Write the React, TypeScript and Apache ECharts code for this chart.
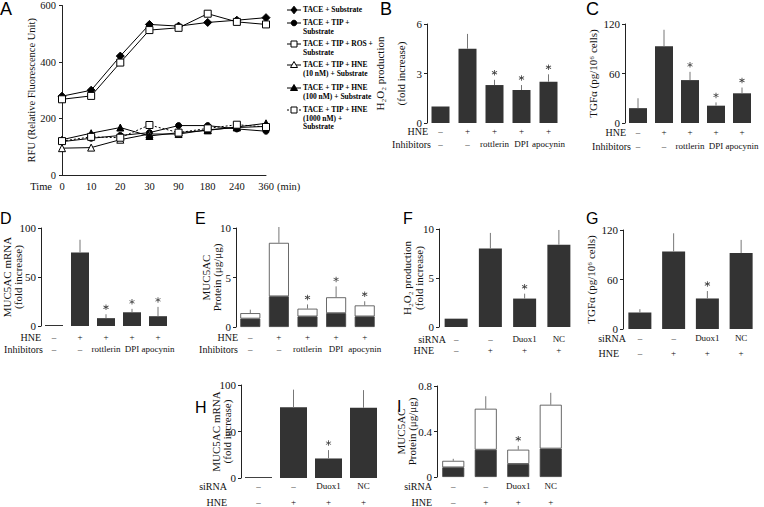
import React, { useEffect, useRef } from "react";
import * as echarts from "echarts";

const SERIF = '"Liberation Serif", "Times New Roman", serif';
const SANS = '"Liberation Sans", Arial, sans-serif';
const INK = "#111";
const BAR = "#333";
const ASTERISK =
  "path://M4.3 0L5.7 0L5.7 10L4.3 10Z M0.32 6.89L8.98 1.89L9.68 3.11L1.02 8.11Z M1.02 1.89L9.68 6.89L8.98 8.11L0.32 3.11Z";

// ---------- Panel A: TACE activity time course ----------
const timeLabels = ["0", "10", "20", "30", "90", "180", "240", "360"];
const aSeriesNames = [
  "TACE + Substrate",
  "TACE + TIP +\nSubstrate",
  "TACE + TIP + ROS +\nSubstrate",
  "TACE + TIP + HNE\n(10 nM) + Substrate",
  "TACE + TIP + HNE\n(100 nM) + Substrate",
  "TACE + TIP + HNE\n(1000 nM) +\nSubstrate",
];
const taceSubstrate = [279, 300, 421, 533, 527, 540, 548, 557];
const taceTip = [118, 130, 140, 150, 175, 175, 163, 155];
const taceTipRos = [268, 280, 398, 513, 521, 571, 542, 533];
const taceTipHne10 = [95, 97, 125, 145, 145, 160, 168, 172];
const taceTipHne100 = [125, 148, 168, 138, 150, 158, 170, 183];
const taceTipHne1000 = [120, 135, 132, 177, 150, 165, 178, 170];

// ---------- Row labels ----------
const hneRow5 = ["–", "+", "+", "+", "+"];
const inhibitorRow = ["–", "–", "rottlerin", "DPI", "apocynin"];
const sirnaRow = ["–", "–", "Duox1", "NC"];
const hneRow4 = ["–", "+", "+", "+"];

// ---------- Panel B: H2O2 production with inhibitors ----------
const bH2o2 = [1.0, 4.5, 2.3, 2.0, 2.5];
const bH2o2Err = [0, 0.9, 0.32, 0.3, 0.45];
const bStars = [0, 0, 1, 1, 1];
// ---------- Panel C: TGFa with inhibitors ----------
const cTgfa = [18, 93, 52, 21, 36];
const cTgfaErr = [12, 20, 10, 4, 7];
const cStars = [0, 0, 1, 1, 1];
// ---------- Panel D: MUC5AC mRNA with inhibitors ----------
const dMrna = [1, 75, 8, 14, 10];
const dMrnaErr = [0, 13, 4, 3.5, 9.5];
const dStars = [0, 0, 1, 1, 1];
// ---------- Panel E: MUC5AC protein with inhibitors ----------
const eProteinBase = [0.85, 3.1, 1.07, 1.4, 1.07];
const eProteinTotal = [1.4, 8.5, 1.85, 3.0, 2.18];
const eProteinErr = [0.35, 1.6, 0.43, 1.1, 0.42];
const eStars = [0, 0, 1, 1, 1];
// ---------- Panel F: H2O2 production with siRNA ----------
const fH2o2 = [0.85, 8.0, 2.9, 8.4];
const fH2o2Err = [0, 1.6, 0.5, 1.5];
const fStars = [0, 0, 1, 0];
// ---------- Panel G: TGFa with siRNA ----------
const gTgfa = [20, 94, 37, 92];
const gTgfaErr = [4, 22, 9, 16];
const gStars = [0, 0, 1, 0];
// ---------- Panel H: MUC5AC mRNA with siRNA ----------
const hMrna = [1, 76, 21, 75.5];
const hMrnaErr = [0, 19, 9, 19];
const hStars = [0, 0, 1, 0];
// ---------- Panel I: MUC5AC protein with siRNA ----------
const iProteinBase = [0.085, 0.24, 0.115, 0.25];
const iProteinTotal = [0.142, 0.6, 0.24, 0.635];
const iProteinErr = [0.018, 0.11, 0.034, 0.105];
const iStars = [0, 0, 1, 0];

function errorSeries(xi: number, yi: number, tops: number[], errs: number[]) {
  const data = tops.map((t, i) => [i, t, t + errs[i]]);
  return {
    type: "custom",
    xAxisIndex: xi,
    yAxisIndex: yi,
    silent: true,
    clip: false,
    z: 5,
    itemStyle: { color: "#777" },
    encode: { x: 0, y: [1, 2] },
    data,
    renderItem: (_params: any, api: any) => {
      const i = api.value(0);
      const t = api.value(1);
      const e = api.value(2);
      if (!(e > t)) return { type: "group", children: [] };
      const p0 = api.coord([i, t]);
      const p1 = api.coord([i, e]);
      return {
        type: "line",
        shape: { x1: p0[0], y1: p0[1], x2: p1[0], y2: p1[1] },
        style: { stroke: "#777", lineWidth: 1 },
      };
    },
  };
}

function starSeries(xi: number, yi: number, tops: number[], errs: number[], stars: number[]) {
  const data: number[][] = [];
  tops.forEach((t, i) => {
    if (stars[i]) data.push([i, t + errs[i]]);
  });
  return {
    type: "scatter",
    xAxisIndex: xi,
    yAxisIndex: yi,
    silent: true,
    z: 6,
    symbol: ASTERISK,
    symbolSize: 5.5,
    symbolOffset: [0, -7],
    itemStyle: { color: INK },
    data,
  };
}

interface PanelCfg {
  left: number; top: number; width: number; height: number;
  max: number; interval: number;
  yName: string; yNameGap: number;
  yName2?: string; yName2Gap?: number;
  rows: string[][]; rowNames: string[]; rowOffsets: number[]; rowGaps: number[];
  barWidth: number;
  values: number[]; totals?: number[]; errs: number[]; stars: number[];
}

function addPanel(opt: any, c: PanelCfg) {
  const gi = opt.grid.length;
  opt.grid.push({ left: c.left, top: c.top, width: c.width, height: c.height });
  const xi = opt.xAxis.length;
  for (let r = 0; r < 2; r++) {
    opt.xAxis.push({
      gridIndex: gi,
      type: "category",
      data: c.rows[r],
      position: "bottom",
      offset: c.rowOffsets[r],
      axisLine: { show: false, onZero: false },
      axisTick: { show: false },
      splitLine: { show: false },
      axisLabel: {
        interval: 0, margin: 0, verticalAlign: "middle",
        fontFamily: SERIF, fontSize: 9, color: INK, hideOverlap: false,
      },
      name: c.rowNames[r],
      nameLocation: "start",
      nameGap: c.rowGaps[r],
      nameMoveOverlap: false,
      nameTextStyle: { fontFamily: SERIF, fontSize: 10, color: INK },
    });
  }
  const yi = opt.yAxis.length;
  opt.yAxis.push({
    gridIndex: gi,
    type: "value",
    position: "left",
    min: 0,
    max: c.max,
    interval: c.interval,
    axisLine: { show: true, onZero: false, lineStyle: { color: "#222", width: 1 } },
    axisTick: { show: true, length: 3, lineStyle: { color: "#222" } },
    splitLine: { show: false },
    axisLabel: { fontFamily: SERIF, fontSize: 11, color: INK, margin: 5 },
    name: c.yName,
    nameLocation: "middle",
    nameGap: c.yNameGap,
    nameMoveOverlap: false,
    nameTextStyle: { fontFamily: SERIF, fontSize: 11, color: INK },
  });
  if (c.yName2) {
    opt.yAxis.push({
      gridIndex: gi,
      type: "value",
      position: "left",
      min: 0,
      max: c.max,
      interval: c.interval,
      axisLine: { show: false, onZero: false },
      axisTick: { show: false },
      splitLine: { show: false },
      axisLabel: { show: false },
      name: c.yName2,
      nameLocation: "middle",
      nameGap: c.yName2Gap,
      nameMoveOverlap: false,
      nameTextStyle: { fontFamily: SERIF, fontSize: 11, color: INK },
    });
  }
  const tops = c.totals ?? c.values;
  if (c.totals) {
    const totals = c.totals;
    opt.series.push({
      type: "bar", xAxisIndex: xi, yAxisIndex: yi, stack: "s" + gi, barWidth: c.barWidth,
      data: c.values, itemStyle: { color: BAR, borderColor: "#444", borderWidth: 0.8 }, silent: true,
    });
    opt.series.push({
      type: "bar", xAxisIndex: xi, yAxisIndex: yi, stack: "s" + gi, barWidth: c.barWidth,
      data: totals.map((t, i) => +(t - c.values[i]).toFixed(4)),
      itemStyle: { color: "#fff", borderColor: "#444", borderWidth: 0.8 }, silent: true,
    });
  } else {
    opt.series.push({
      type: "bar", xAxisIndex: xi, yAxisIndex: yi, barWidth: c.barWidth,
      data: c.values, itemStyle: { color: BAR }, silent: true,
    });
  }
  opt.series.push(errorSeries(xi, yi, tops, c.errs));
  opt.series.push(starSeries(xi, yi, tops, c.errs, c.stars));
}

function symbolGraphic(kind: string, filled: boolean, cx: number, cy: number) {
  const style = { fill: filled ? "#000" : "#fff", stroke: "#000", lineWidth: 1 };
  if (kind === "diamond") {
    return { type: "polygon", shape: { points: [[cx, cy - 3.8], [cx + 3, cy], [cx, cy + 3.8], [cx - 3, cy]] }, style };
  }
  if (kind === "circle") {
    return { type: "circle", shape: { cx, cy, r: 2.8 }, style };
  }
  if (kind === "rect") {
    return { type: "rect", shape: { x: cx - 3, y: cy - 3, width: 6, height: 6 }, style };
  }
  return { type: "polygon", shape: { points: [[cx, cy - 3.5], [cx + 3.5, cy + 2.5], [cx - 3.5, cy + 2.5]] }, style };
}

function buildOption() {
  const opt: any = {
    animation: false,
    backgroundColor: "#fff",
    grid: [],
    xAxis: [],
    yAxis: [],
    series: [],
    graphic: [],
  };

  // ---- Panel A ----
  opt.grid.push({ left: 62, top: 3, width: 204, height: 172 });
  opt.xAxis.push({
    gridIndex: 0, type: "category", data: timeLabels, boundaryGap: false, position: "bottom",
    axisLine: { show: true, onZero: false, lineStyle: { color: "#222" } },
    axisTick: { show: false },
    axisLabel: { interval: 0, fontFamily: SERIF, fontSize: 10.5, color: INK, margin: 6 },
    name: "Time", nameLocation: "start", nameGap: 10, nameMoveOverlap: false,
    nameTextStyle: { fontFamily: SERIF, fontSize: 10.5, color: INK, verticalAlign: "top", padding: [6, 0, 0, 0] },
  });
  opt.xAxis.push({
    gridIndex: 0, type: "category", data: timeLabels, boundaryGap: false, position: "bottom",
    axisLine: { show: false, onZero: false }, axisTick: { show: false }, axisLabel: { show: false },
    name: "(min)", nameLocation: "end", nameGap: 11, nameMoveOverlap: false,
    nameTextStyle: { fontFamily: SERIF, fontSize: 10.5, color: INK, verticalAlign: "top", padding: [6, 0, 0, 0] },
  });
  opt.yAxis.push({
    gridIndex: 0, type: "value", position: "left", min: 0, max: 600, interval: 200,
    axisLine: { show: true, onZero: false, lineStyle: { color: "#222" } },
    axisTick: { show: true, length: 3, lineStyle: { color: "#222" } },
    splitLine: { show: false },
    axisLabel: { fontFamily: SERIF, fontSize: 10.5, color: INK, margin: 6 },
    name: "RFU (Relative Fluorescence Unit)", nameLocation: "middle", nameGap: 25, nameMoveOverlap: false,
    nameTextStyle: { fontFamily: SERIF, fontSize: 10.5, color: INK },
  });
  const aData = [taceSubstrate, taceTip, taceTipRos, taceTipHne10, taceTipHne100, taceTipHne1000];
  const aSymbols = ["diamond", "circle", "rect", "triangle", "triangle", "rect"];
  const aSymbolSize = [8, 6, 7, 7, 7, 7];
  const aFilled = [true, true, false, false, true, false];
  const aDashed = [false, false, false, false, false, true];
  aData.forEach((d, i) => {
    opt.series.push({
      type: "line", name: aSeriesNames[i], xAxisIndex: 0, yAxisIndex: 0, data: d,
      symbol: aSymbols[i], symbolSize: aSymbolSize[i],
      lineStyle: { color: "#000", width: 1, type: aDashed[i] ? [2, 2] : "solid" },
      itemStyle: { color: aFilled[i] ? "#000" : "#fff", borderColor: "#000", borderWidth: 1 },
      z: 3 + i, silent: true,
    });
  });
  const legendTop = [10, 23, 44, 65, 88, 110];
  aSeriesNames.forEach((name, i) => {
    const y = legendTop[i];
    opt.graphic.push({
      type: "line", shape: { x1: 287, y1: y, x2: 301, y2: y },
      style: { stroke: "#000", lineWidth: 1, lineDash: aDashed[i] ? [2, 2] : null },
    });
    opt.graphic.push(symbolGraphic(aSymbols[i], aFilled[i], 294, y));
    opt.graphic.push({
      type: "text", x: 303, y: y - 4.5,
      style: {
        text: name, fill: "#000", fontSize: 7.5, fontWeight: "bold", fontFamily: SERIF, lineHeight: 8.5,
        verticalAlign: "top",
      },
    });
  });

  const H2O2_LINE = "H₂O₂ production";
  const FOLD = "(fold increase)";
  const TGFA = "TGFα (pg/10⁶ cells)";
  const MRNA = "MUC5AC mRNA\n(fold increase)";
  const PROT = "MUC5AC\nProtein (μg/μg)";

  // ---- Panel B ----
  addPanel(opt, {
    left: 427, top: 24, width: 135, height: 99, max: 6, interval: 3,
    yName: FOLD, yNameGap: 21, yName2: H2O2_LINE, yName2Gap: 42,
    rows: [hneRow5, inhibitorRow], rowNames: ["HNE", "Inhibitors"], rowOffsets: [8, 21], rowGaps: [-1, -4],
    barWidth: 18, values: bH2o2, errs: bH2o2Err, stars: bStars,
  });
  // ---- Panel C ----
  addPanel(opt, {
    left: 625, top: 24, width: 130, height: 99, max: 120, interval: 60,
    yName: TGFA, yNameGap: 27,
    rows: [hneRow5, inhibitorRow], rowNames: ["HNE", "Inhibitors"], rowOffsets: [9, 23], rowGaps: [-1, -6],
    barWidth: 18, values: cTgfa, errs: cTgfaErr, stars: cStars,
  });
  // ---- Panel D ----
  addPanel(opt, {
    left: 41, top: 228, width: 130, height: 98, max: 100, interval: 50,
    yName: MRNA, yNameGap: 18,
    rows: [hneRow5, inhibitorRow], rowNames: ["HNE", "Inhibitors"], rowOffsets: [11, 23], rowGaps: [0, -2],
    barWidth: 18, values: dMrna, errs: dMrnaErr, stars: dStars,
  });
  // ---- Panel E ----
  addPanel(opt, {
    left: 236, top: 228, width: 143, height: 99, max: 10, interval: 5,
    yName: PROT, yNameGap: 14,
    rows: [hneRow5, inhibitorRow], rowNames: ["HNE", "Inhibitors"], rowOffsets: [10, 22], rowGaps: [-2, -2],
    barWidth: 20, values: eProteinBase, totals: eProteinTotal, errs: eProteinErr, stars: eStars,
  });
  // ---- Panel F ----
  addPanel(opt, {
    left: 439, top: 229, width: 137, height: 98, max: 10, interval: 5,
    yName: FOLD, yNameGap: 15, yName2: H2O2_LINE, yName2Gap: 27,
    rows: [sirnaRow, hneRow4], rowNames: ["siRNA", "HNE"], rowOffsets: [12, 23], rowGaps: [-7, 5],
    barWidth: 23, values: fH2o2, errs: fH2o2Err, stars: fStars,
  });
  // ---- Panel G ----
  addPanel(opt, {
    left: 623, top: 230, width: 135, height: 99, max: 120, interval: 60,
    yName: TGFA, yNameGap: 27,
    rows: [sirnaRow, hneRow4], rowNames: ["siRNA", "HNE"], rowOffsets: [9, 24], rowGaps: [-3, 4],
    barWidth: 23, values: gTgfa, errs: gTgfaErr, stars: gStars,
  });
  // ---- Panel H ----
  addPanel(opt, {
    left: 241, top: 385, width: 140, height: 95, max: 100, interval: 50,
    yName: MRNA, yNameGap: 9,
    rows: [sirnaRow, hneRow4], rowNames: ["siRNA", "HNE"], rowOffsets: [8, 24], rowGaps: [14, 14],
    barWidth: 27, values: hMrna, errs: hMrnaErr, stars: hStars,
  });
  // ---- Panel I ----
  addPanel(opt, {
    left: 437, top: 386, width: 130, height: 93, max: 0.8, interval: 0.4,
    yName: PROT, yNameGap: 20,
    rows: [sirnaRow, hneRow4], rowNames: ["siRNA", "HNE"], rowOffsets: [9, 25], rowGaps: [5, 5],
    barWidth: 22, values: iProteinBase, totals: iProteinTotal, errs: iProteinErr, stars: iStars,
  });

  // ---- Panel letters ----
  const letters: [string, number, number, number][] = [
    ["A", 0, 0, 18], ["B", 380, 0, 18], ["C", 586, 0, 18],
    ["D", 0, 210, 16], ["E", 195, 210, 16], ["F", 403, 210, 16], ["G", 586, 210, 16],
    ["H", 195, 399, 16], ["I", 397, 398, 16],
  ];
  letters.forEach(([t, x, y, fs]) => {
    opt.graphic.push({
      type: "text", x, y,
      style: { text: t, fill: "#000", fontSize: fs, fontFamily: SANS, verticalAlign: "top" },
    });
  });

  return opt;
}

export default function App() {
  const ref = useRef<HTMLDivElement>(null);
  useEffect(() => {
    document.body.style.margin = "0";
    const chart = echarts.init(ref.current as HTMLDivElement, null, { renderer: "svg" });
    chart.setOption(buildOption());
    return () => chart.dispose();
  }, []);
  return <div ref={ref} style={{ width: 764, height: 507 }} />;
}
